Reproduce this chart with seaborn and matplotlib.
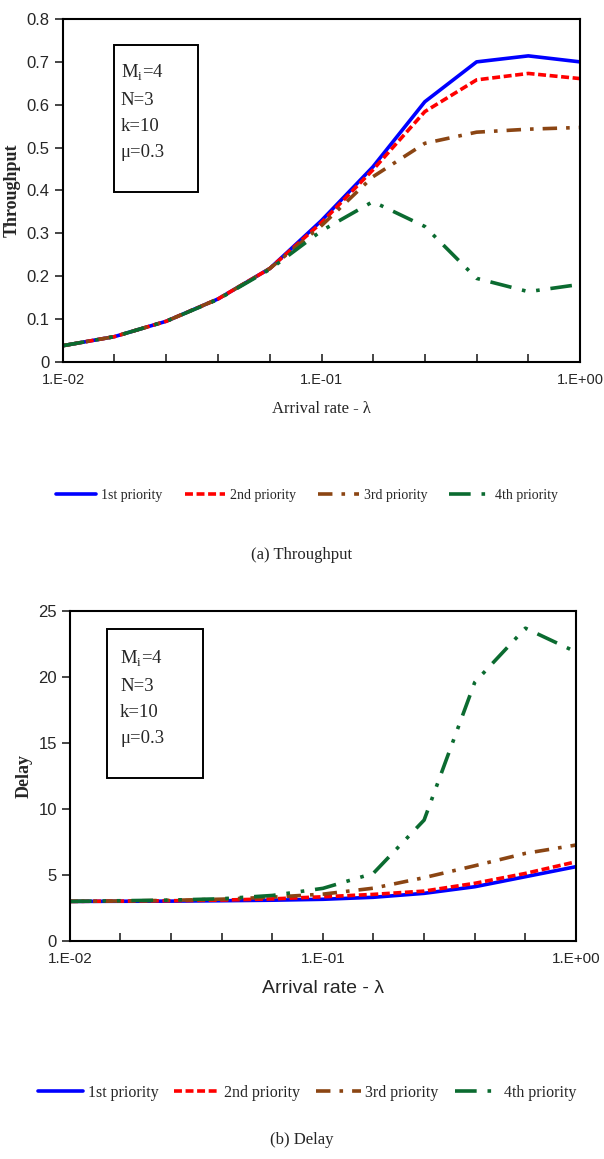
import numpy as np
import pandas as pd
import matplotlib
matplotlib.use("Agg")
import matplotlib.pyplot as plt
from matplotlib.ticker import FixedLocator, NullFormatter, FixedFormatter
from matplotlib.patches import Rectangle
from matplotlib.lines import Line2D
import seaborn as sns

# ---------------- data ----------------
arrival_rate = [0.01, 0.0158, 0.0251, 0.0398, 0.0631, 0.1, 0.158, 0.251, 0.398, 0.631, 1.0]
series_names = ["1st priority", "2nd priority", "3rd priority", "4th priority"]

thr_1st = [0.038, 0.059, 0.095, 0.147, 0.218, 0.330, 0.455, 0.607, 0.700, 0.714, 0.700]
thr_2nd = [0.038, 0.059, 0.095, 0.147, 0.218, 0.325, 0.448, 0.584, 0.658, 0.673, 0.661]
thr_3rd = [0.038, 0.059, 0.095, 0.147, 0.218, 0.318, 0.432, 0.510, 0.536, 0.543, 0.547]
thr_4th = [0.038, 0.059, 0.095, 0.146, 0.216, 0.306, 0.374, 0.316, 0.195, 0.164, 0.181]

del_1st = [3.00, 3.01, 3.02, 3.05, 3.09, 3.16, 3.31, 3.61, 4.11, 4.87, 5.63]
del_2nd = [3.00, 3.02, 3.05, 3.10, 3.19, 3.35, 3.53, 3.78, 4.37, 5.12, 6.00]
del_3rd = [3.00, 3.03, 3.08, 3.17, 3.32, 3.55, 4.00, 4.80, 5.70, 6.64, 7.27]
del_4th = [3.00, 3.05, 3.10, 3.20, 3.45, 3.99, 5.12, 9.16, 19.6, 23.7, 21.9]

xtick_vals = [0.01, 0.1, 1.0]
xtick_labels = ["1.E-02", "1.E-01", "1.E+00"]

colors = {"1st priority": "#0000FF", "2nd priority": "#FF0000",
          "3rd priority": "#8B4513", "4th priority": "#0B6B30"}
dashes = {"1st priority": "", "2nd priority": (2.2, 1.0),
          "3rd priority": (4, 2.5, 1, 2.5), "4th priority": (6, 3, 1, 3, 1, 3)}

def long_df(vals):
    rows = []
    for name, ys in zip(series_names, vals):
        for x, y in zip(arrival_rate, ys):
            rows.append({"rate": x, "value": y, "series": name})
    return pd.DataFrame(rows)

df_thr = long_df([thr_1st, thr_2nd, thr_3rd, thr_4th])
df_del = long_df([del_1st, del_2nd, del_3rd, del_4th])

sns.set_theme(style="white")
plt.rcParams["font.family"] = ["Liberation Sans", "DejaVu Sans"]
SERIF = ["Liberation Serif", "DejaVu Serif"]
SANS = ["Liberation Sans", "DejaVu Sans"]

fig = plt.figure(figsize=(6.04, 11.59), dpi=100)
ax1 = fig.add_axes([0.1043, 0.6877, 0.8560, 0.2959])
ax2 = fig.add_axes([0.1159, 0.1881, 0.8377, 0.2847])


def style_axes(ax, ylim, yticks, ylabel, xlabel_family, xlabel_size, xtick_size):
    ax.set_xscale("log")
    ax.set_xlim(0.01, 1.0)
    ax.set_ylim(*ylim)
    ax.xaxis.set_major_locator(FixedLocator(arrival_rate))
    labels = []
    for x in arrival_rate:
        m = [l for v, l in zip(xtick_vals, xtick_labels) if abs(v - x) < 1e-9]
        labels.append(m[0] if m else "")
    ax.xaxis.set_major_formatter(FixedFormatter(labels))
    ax.xaxis.set_minor_locator(FixedLocator([]))
    ax.xaxis.set_minor_formatter(NullFormatter())
    ax.set_yticks(yticks)
    ax.set_yticklabels([("%g" % t) for t in yticks], family=SANS, fontsize=12)
    for lab in ax.get_xticklabels():
        lab.set_family(SANS)
        lab.set_fontsize(xtick_size)
    ax.tick_params(axis="x", direction="in", length=6, width=1.2, pad=8, bottom=True)
    ax.tick_params(axis="y", direction="out", length=6, width=1.2, left=True)
    for sp in ax.spines.values():
        sp.set_linewidth(1.5)
        sp.set_color("black")
    ax.grid(False)
    ax.set_ylabel(ylabel, family=SERIF, fontsize=13, fontweight="bold", labelpad=4)
    ax.set_xlabel("Arrival rate - λ", family=xlabel_family, fontsize=xlabel_size, labelpad=10)


for ax, df in [(ax1, df_thr), (ax2, df_del)]:
    sns.lineplot(data=df, x="rate", y="value", hue="series", style="series",
                 palette=colors, dashes=dashes, linewidth=2.6, ax=ax, legend=False)

style_axes(ax1, (0, 0.8), [0, 0.1, 0.2, 0.3, 0.4, 0.5, 0.6, 0.7, 0.8], "Throughput", SERIF, 12, 10.5)
style_axes(ax2, (0, 25), [0, 5, 10, 15, 20, 25], "Delay", SANS, 14, 11)

param_text = "M$_\\mathregular{i}$=4\nN=3\nk=10\nμ=0.3"
# parameter boxes (axes coordinates)
ax1.add_patch(Rectangle((0.0986, 0.496), 0.1624, 0.428, transform=ax1.transAxes,
                        facecolor="white", edgecolor="black", linewidth=1.4, zorder=3))
ax1.text(0.112, 0.872, param_text, transform=ax1.transAxes, family=SERIF, fontsize=13.5,
         va="top", ha="left", linespacing=1.68, zorder=4)
ax2.add_patch(Rectangle((0.073, 0.494), 0.190, 0.451, transform=ax2.transAxes,
                        facecolor="white", edgecolor="black", linewidth=1.4, zorder=3))
ax2.text(0.099, 0.885, param_text, transform=ax2.transAxes, family=SERIF, fontsize=13.5,
         va="top", ha="left", linespacing=1.68, zorder=4)

handles = []
for name in series_names:
    d = dashes[name]
    h = Line2D([0], [0], color=colors[name], linewidth=2.6)
    if d:
        h.set_dashes(d)
    handles.append(h)

fig.legend(handles, series_names, loc="center", bbox_to_anchor=(0.508, 1 - 495 / 1159), ncol=4,
           frameon=False, prop={"family": SERIF, "size": 10}, handlelength=2.9,
           handletextpad=0.35, columnspacing=1.6)
fig.legend(handles, series_names, loc="center", bbox_to_anchor=(0.509, 1 - 1093 / 1159), ncol=4,
           frameon=False, prop={"family": SERIF, "size": 11.5}, handlelength=2.8,
           handletextpad=0.3, columnspacing=1.0)

fig.text(0.5, 1 - 555 / 1159, "(a) Throughput", ha="center", va="center", family=SERIF, fontsize=12)
fig.text(0.5, 1 - 1140 / 1159, "(b) Delay", ha="center", va="center", family=SERIF, fontsize=12)

fig.savefig("out.png", dpi=100)
